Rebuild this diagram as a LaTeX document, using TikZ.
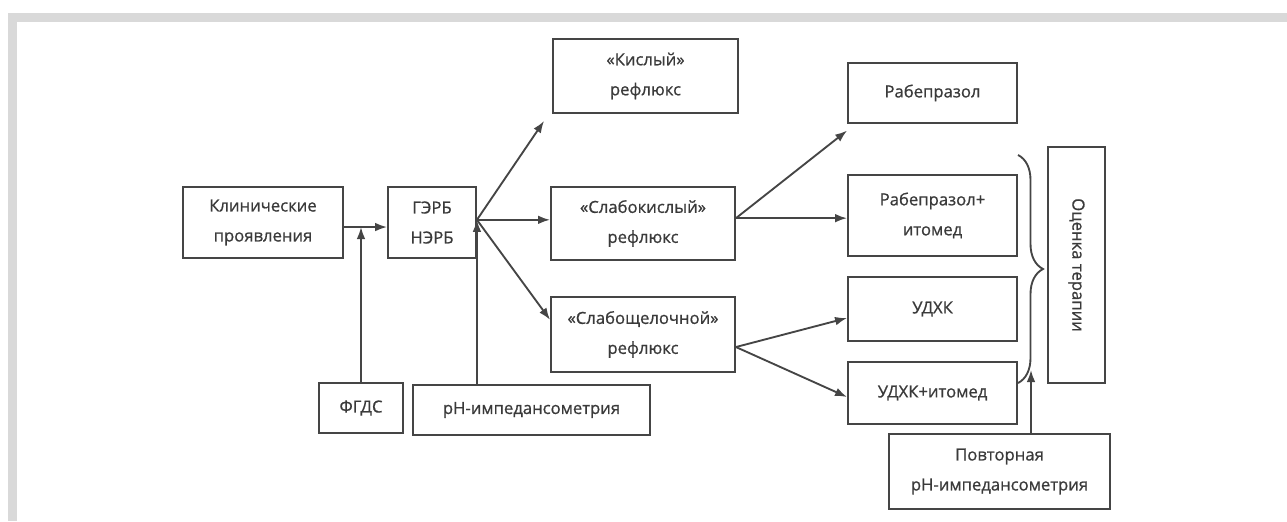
\documentclass[tikz,border=0pt]{standalone}
\usepackage{fontspec}
\setmainfont{Open Sans}[FakeBold=0.8]
\usepackage{tikz}
\usetikzlibrary{arrows.meta,positioning,calc,decorations.pathreplacing}
\definecolor{framegray}{HTML}{D9D9D9}
\definecolor{linegray}{HTML}{454545}
\definecolor{textgray}{HTML}{3A3A3A}

\begin{document}
\begin{tikzpicture}[>={Latex[length=9pt,width=6.5pt]}, x=0.75pt, y=-0.75pt]
  \tikzstyle{box}=[draw=linegray, line width=1.4pt, align=center, inner sep=2pt, text=textgray, font=\fontsize{12.5}{22.5}\selectfont]
  \tikzstyle{link}=[->, draw=linegray, line width=1.4pt]
  \useasboundingbox (0,0) rectangle (1287,521);
  % frame
  \fill[framegray] (8,13) rectangle (1287,22);
  \fill[framegray] (8,13) rectangle (17,521);
  % boxes
  \node[box, minimum width=120pt, minimum height=53.25pt] (klin) at (263,222.5) {Клинические\\проявления};
  \node[box, minimum width=66pt, minimum height=53.25pt] (gerb) at (432,222.5) {ГЭРБ\\НЭРБ};
  \node[box, minimum width=63pt, minimum height=37.5pt] (fgds) at (361,408) {ФГДС};
  \node[box, minimum width=177.75pt, minimum height=37.5pt] (ph) at (531.5,410) {pH-импедансометрия};
  \node[box, minimum width=138.75pt, minimum height=55.5pt] (kisl) at (645.5,76) {«Кислый»\\рефлюкс};
  \node[box, minimum width=138pt, minimum height=54.75pt] (slabk) at (643,223.5) {«Слабокислый»\\рефлюкс};
  \node[box, minimum width=138pt, minimum height=56.25pt] (slabsh) at (643,334.5) {«Слабощелочной»\\рефлюкс};
  \node[box, minimum width=126.75pt, minimum height=45pt] (rabe) at (932.5,93) {Рабепразол};
  \node[box, minimum width=126.75pt, minimum height=60.75pt] (rabeit) at (932.5,215.5) {Рабепразол+\\итомед};
  \node[box, minimum width=126.75pt, minimum height=48pt] (udhk) at (932.5,309) {УДХК};
  \node[box, minimum width=126.75pt, minimum height=46.5pt] (udhkit) at (932.5,393) {УДХК+итомед};
  \node[box, minimum width=165.75pt, minimum height=56.25pt] (povt) at (999.5,471.5) {Повторная\\pH-импедансометрия};
  \node[box, rotate=-90, minimum width=177pt, minimum height=42.75pt] (ocen) at (1076.5,265) {Оценка терапии};
  % helper points
  \coordinate (j1) at ([yshift=-3.4pt]klin.east);
  \coordinate (fork) at ([yshift=2pt]gerb.east);
  \coordinate (sk) at ([yshift=4pt]slabk.east);
  \coordinate (ssh) at ([yshift=-9.4pt]slabsh.east);
  \coordinate (rep) at (1031,370);
  % connectors
  \draw[link] (j1) -- (j1 -| gerb.west);
  \draw[link] (fgds.north) -- (fgds.north |- j1);
  \draw[link] (ph.north -| gerb.east) -- (fork);
  \draw[link] (fork) -- ([xshift=-6pt, yshift=-5.25pt]kisl.south west);
  \draw[link] (fork) -- (fork -| slabk.west);
  \draw[link] (fork) -- ([yshift=11pt]slabsh.west);
  \draw[link] (sk) -- ([yshift=-5pt]rabe.south west);
  \draw[link] (sk) -- (sk -| rabeit.west);
  \draw[link] (ssh) -- ([yshift=-6.75pt]udhk.west);
  \draw[link] (ssh) -- ([yshift=-3pt]udhkit.west);
  % brace and repeat test
  \draw[draw=linegray, line width=1.4pt, decorate, decoration={brace, amplitude=18.75pt}] (1018,155) -- (1018,383);
  \draw[link] (povt.north -| rep) -- (rep);
\end{tikzpicture}
\end{document}
